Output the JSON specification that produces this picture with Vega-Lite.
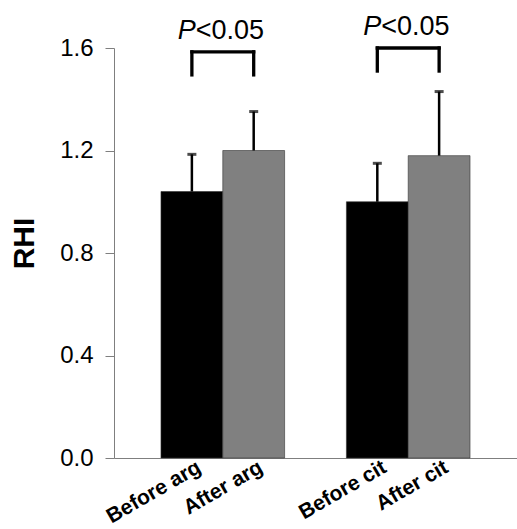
{
  "$schema": "https://vega.github.io/schema/vega-lite/v6.json",
  "autosize": "none",
  "width": 403,
  "height": 410,
  "padding": {"left": 114, "top": 48, "right": 0, "bottom": 71},
  "background": "white",
  "datasets": {
    "bars": [
      {"name": "Before arg", "mean": 1.04, "upper": 1.185},
      {"name": "After arg", "mean": 1.2, "upper": 1.352},
      {"name": "Before cit", "mean": 1.0, "upper": 1.15},
      {"name": "After cit", "mean": 1.18, "upper": 1.43}
    ],
    "brackets": [
      {"from": "Before arg", "to": "After arg", "top": 1.585, "bottom": 1.495},
      {"from": "Before cit", "to": "After cit", "top": 1.6, "bottom": 1.51}
    ],
    "legs": [
      {"name": "Before arg", "top": 1.585, "bottom": 1.495},
      {"name": "After arg", "top": 1.585, "bottom": 1.495},
      {"name": "Before cit", "top": 1.6, "bottom": 1.51},
      {"name": "After cit", "top": 1.6, "bottom": 1.51}
    ],
    "labels": [
      {"name": "After arg", "y": 1.637, "p": "P", "rest": "<0.05"},
      {"name": "After cit", "y": 1.652, "p": "P", "rest": "<0.05"}
    ]
  },
  "config": {
    "view": {"stroke": null},
    "font": "Liberation Sans"
  },
  "layer": [
    {
      "data": {"name": "bars"},
      "mark": {"type": "bar", "stroke": "#333333", "strokeWidth": 0.6},
      "encoding": {
        "x": {
          "field": "name",
          "type": "nominal",
          "sort": null,
          "scale": {
            "domain": ["Before arg", "After arg", " ", "Before cit", "After cit"],
            "paddingInner": 0,
            "paddingOuter": 0.76
          },
          "axis": {
            "title": null,
            "grid": false,
            "ticks": false,
            "domainColor": "#7f7f7f",
            "labelAngle": -30,
            "labelAlign": "right",
            "labelBaseline": "top",
            "labelFont": "Liberation Sans",
            "labelFontSize": 21,
            "labelFontWeight": "bold",
            "labelColor": "#000000",
            "labelPadding": -2,
            "labelOffset": 2
          }
        },
        "y": {
          "field": "mean",
          "type": "quantitative",
          "scale": {"domain": [0, 1.6], "nice": false, "zero": true},
          "axis": {
            "title": "RHI",
            "values": [0, 0.4, 0.8, 1.2, 1.6],
            "format": ".1f",
            "grid": false,
            "domainColor": "#7f7f7f",
            "tickColor": "#7f7f7f",
            "tickSize": 9,
            "labelFont": "Liberation Sans",
            "labelFontSize": 24,
            "labelColor": "#000000",
            "labelPadding": 12,
            "titleFont": "Liberation Sans",
            "titleFontSize": 30,
            "titleFontWeight": "bold",
            "titleColor": "#000000",
            "titlePadding": 20,
            "titleY": 195
          }
        },
        "color": {
          "field": "name",
          "type": "nominal",
          "scale": {
            "domain": ["Before arg", "After arg", "Before cit", "After cit"],
            "range": ["#000000", "#808080", "#000000", "#808080"]
          },
          "legend": null
        }
      }
    },
    {
      "data": {"name": "bars"},
      "mark": {"type": "rule", "color": "#000000", "strokeWidth": 2.5},
      "encoding": {
        "x": {"field": "name", "type": "nominal"},
        "y": {"field": "mean", "type": "quantitative"},
        "y2": {"field": "upper"}
      }
    },
    {
      "data": {"name": "bars"},
      "mark": {"type": "tick", "color": "#000000", "size": 9, "thickness": 3, "orient": "horizontal"},
      "encoding": {
        "x": {"field": "name", "type": "nominal"},
        "y": {"field": "upper", "type": "quantitative"}
      }
    },
    {
      "data": {"name": "brackets"},
      "mark": {"type": "rule", "color": "#000000", "strokeWidth": 3.3, "strokeCap": "square"},
      "encoding": {
        "x": {"field": "from", "type": "nominal"},
        "x2": {"field": "to"},
        "y": {"field": "top", "type": "quantitative"}
      }
    },
    {
      "data": {"name": "legs"},
      "mark": {"type": "rule", "color": "#000000", "strokeWidth": 3.3, "strokeCap": "square"},
      "encoding": {
        "x": {"field": "name", "type": "nominal"},
        "y": {"field": "top", "type": "quantitative"},
        "y2": {"field": "bottom"}
      }
    },
    {
      "data": {"name": "labels"},
      "mark": {"type": "text", "font": "Liberation Sans", "fontSize": 27, "fontStyle": "italic", "align": "right", "baseline": "alphabetic", "dx": -27, "color": "#000000"},
      "encoding": {
        "x": {"field": "name", "type": "nominal", "bandPosition": 0},
        "y": {"field": "y", "type": "quantitative"},
        "text": {"field": "p"}
      }
    },
    {
      "data": {"name": "labels"},
      "mark": {"type": "text", "font": "Liberation Sans", "fontSize": 27, "align": "left", "baseline": "alphabetic", "dx": -27, "color": "#000000"},
      "encoding": {
        "x": {"field": "name", "type": "nominal", "bandPosition": 0},
        "y": {"field": "y", "type": "quantitative"},
        "text": {"field": "rest"}
      }
    }
  ]
}
